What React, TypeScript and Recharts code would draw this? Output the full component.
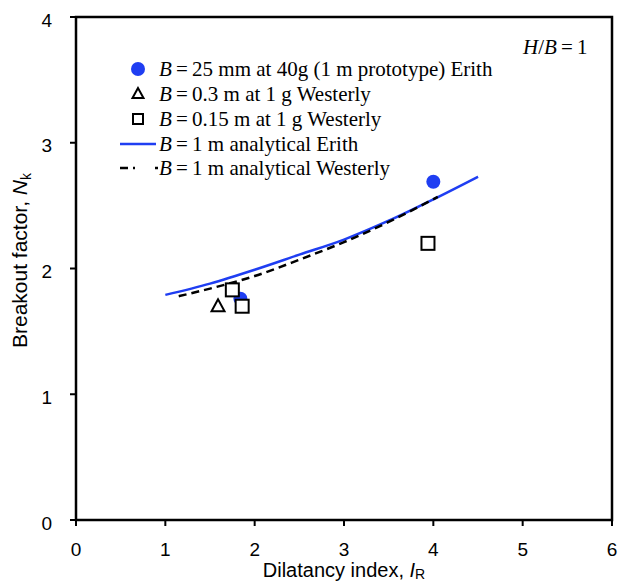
import React from "react";
import {
  ComposedChart,
  Line,
  Scatter,
  XAxis,
  YAxis,
  ReferenceArea,
  Legend,
} from "recharts";

const xTicks = [0, 1, 2, 3, 4, 5, 6];
const yTicks = [0, 1, 2, 3, 4];

// centrifuge test, B = 25 mm at 40g (Erith)
const erithTest = [
  { x: 1.84, y: 1.76 },
  { x: 4.0, y: 2.69 },
];
// 1g tests (Westerly)
const westerly03 = [{ x: 1.59, y: 1.7 }];
const westerly015 = [
  { x: 1.75, y: 1.83 },
  { x: 1.86, y: 1.7 },
  { x: 3.94, y: 2.2 },
];
// analytical curves
const erithAnalytical = [
  { x: 1.0, y: 1.79 },
  { x: 1.5, y: 1.88 },
  { x: 2.0, y: 1.99 },
  { x: 2.5, y: 2.11 },
  { x: 3.0, y: 2.23 },
  { x: 3.5, y: 2.38 },
  { x: 4.0, y: 2.55 },
  { x: 4.5, y: 2.73 },
];
const westerlyAnalytical = [
  { x: 1.15, y: 1.78 },
  { x: 1.5, y: 1.84 },
  { x: 2.0, y: 1.94 },
  { x: 2.5, y: 2.07 },
  { x: 3.0, y: 2.21 },
  { x: 3.5, y: 2.37 },
  { x: 4.05, y: 2.57 },
];

const BLUE = "#1f3ef2";
const SANS = "'Liberation Sans', Arial, sans-serif";
const SERIF = "'Liberation Serif', 'Times New Roman', serif";
const TICK_MARGIN = 20;

const XTick = (props: any) => {
  const { x, y, payload } = props;
  const axisY = y - TICK_MARGIN;
  return (
    <g>
      <line x1={x} y1={axisY} x2={x} y2={axisY - 7} stroke="#000" strokeWidth={2} />
      <text x={x} y={y - 3} dy="0.71em" textAnchor="middle" fontSize={19} fontFamily={SANS} fill="#000">
        {payload.value}
      </text>
    </g>
  );
};

const YTick = (props: any) => {
  const { x, y, payload } = props;
  const axisX = x + TICK_MARGIN;
  return (
    <g>
      <line x1={axisX} y1={y} x2={axisX + 7} y2={y} stroke="#000" strokeWidth={2} />
      <text x={x + 2} y={y + 3} dy="0.355em" textAnchor="end" fontSize={19} fontFamily={SANS} fill="#000">
        {payload.value}
      </text>
    </g>
  );
};

const XTitle = (props: any) => {
  const { viewBox } = props;
  const cx = viewBox.x + viewBox.width / 2;
  return (
    <text x={cx} y={viewBox.y + 57} textAnchor="middle" fontSize={20} fontFamily={SANS} fill="#000">
      Dilatancy index,{" "}
      <tspan fontStyle="italic">I</tspan>
      <tspan fontSize={14} dy={2}>R</tspan>
    </text>
  );
};

const YTitle = (props: any) => {
  const { viewBox } = props;
  const cx = 27;
  const cy = viewBox.y + viewBox.height / 2 - 8;
  return (
    <text
      x={cx}
      y={cy}
      textAnchor="middle"
      fontSize={21}
      fontFamily={SANS}
      fill="#000"
      transform={`rotate(-90 ${cx} ${cy})`}
    >
      Breakout factor,{" "}
      <tspan fontStyle="italic">N</tspan>
      <tspan fontSize={14} dy={4}>k</tspan>
    </text>
  );
};

const dot = (props: any) => <circle cx={props.cx} cy={props.cy} r={7} fill={BLUE} />;
const tri = (props: any) => {
  const { cx, cy } = props;
  return (
    <polygon
      points={`${cx},${cy - 7} ${cx - 6.5},${cy + 5} ${cx + 6.5},${cy + 5}`}
      fill="#fff"
      stroke="#000"
      strokeWidth={2}
    />
  );
};
const sq = (props: any) => (
  <rect x={props.cx - 6.5} y={props.cy - 6.5} width={13} height={13} fill="#fff" stroke="#000" strokeWidth={2} />
);

const legendRows = [
  { key: "erith", pre: "\u2009=\u200925 mm at 40g (1 m prototype) Erith" },
  { key: "w03", pre: "\u2009=\u20090.3 m at 1 g Westerly" },
  { key: "w015", pre: "\u2009=\u20090.15 m at 1 g Westerly" },
  { key: "aErith", pre: "\u2009=\u20091 m analytical Erith" },
  { key: "aWest", pre: "\u2009=\u20091 m analytical Westerly" },
];

const LegendSymbol = ({ k }: { k: string }) => {
  return (
    <svg width={40} height={24} style={{ display: "block" }}>
      {k === "erith" && <circle cx={19} cy={12} r={7} fill={BLUE} />}
      {k === "w03" && (
        <polygon points="19,6 13.5,16 24.5,16" fill="#fff" stroke="#000" strokeWidth={2} />
      )}
      {k === "w015" && <rect x={14} y={7} width={10} height={10} fill="#fff" stroke="#000" strokeWidth={2} />}
      {k === "aErith" && <line x1={1} y1={12} x2={37} y2={12} stroke={BLUE} strokeWidth={2.5} />}
      {k === "aWest" && (
        <line x1={1} y1={12} x2={39} y2={12} stroke="#000" strokeWidth={2.5} strokeDasharray="8 5 2 20" />
      )}
    </svg>
  );
};

const LegendContent = () => (
  <div style={{ position: "relative", width: 619, height: 200, fontFamily: SERIF, fontSize: 21, color: "#000" }}>
    <div style={{ position: "absolute", left: 119, top: 57 }}>
      {legendRows.map((r) => (
        <div key={r.key} style={{ display: "flex", alignItems: "center", height: 24.75, whiteSpace: "nowrap" }}>
          <LegendSymbol k={r.key} />
          <span style={{ lineHeight: "24px" }}>
            <i>B</i>
            {r.pre}
          </span>
        </div>
      ))}
    </div>
    <div style={{ position: "absolute", left: 523, top: 35, whiteSpace: "nowrap", lineHeight: "24px" }}>
      <i>H</i>/<i>B</i>
      {"\u2009=\u20091"}
    </div>
  </div>
);

export default function App() {
  return (
    <div style={{ position: "absolute", left: 0, top: 0, background: "#fff" }}>
      <ComposedChart width={619} height={582} margin={{ top: 17, right: 7, left: 0, bottom: 0 }}>
        <XAxis
          type="number"
          dataKey="x"
          domain={[0, 6]}
          ticks={xTicks}
          allowDataOverflow
          height={62}
          axisLine={false}
          tickLine={false}
          tickMargin={TICK_MARGIN}
          tick={<XTick />}
          label={{ content: <XTitle /> }}
        />
        <YAxis
          type="number"
          dataKey="y"
          domain={[0, 4]}
          ticks={yTicks}
          allowDataOverflow
          width={76}
          axisLine={false}
          tickLine={false}
          tickMargin={TICK_MARGIN}
          tick={<YTick />}
          label={{ content: <YTitle /> }}
        />
        <ReferenceArea x1={0} x2={6} y1={0} y2={4} fill="none" fillOpacity={0} stroke="#000" strokeWidth={2.5} />
        <Line
          data={erithAnalytical}
          dataKey="y"
          type="monotone"
          stroke={BLUE}
          strokeWidth={2.5}
          dot={false}
          activeDot={false}
          isAnimationActive={false}
          legendType="none"
        />
        <Line
          data={westerlyAnalytical}
          dataKey="y"
          type="monotone"
          stroke="#000"
          strokeWidth={2.5}
          strokeDasharray="8 5"
          dot={false}
          activeDot={false}
          isAnimationActive={false}
          legendType="none"
        />
        <Scatter data={westerly03} dataKey="y" shape={tri} isAnimationActive={false} />
        <Scatter data={erithTest} dataKey="y" shape={dot} isAnimationActive={false} />
        <Scatter data={westerly015} dataKey="y" shape={sq} isAnimationActive={false} />
        <Legend
          layout="vertical"
          align="center"
          verticalAlign="middle"
          content={<LegendContent />}
          wrapperStyle={{ left: 0, top: 0, width: 619, height: 200 }}
        />
      </ComposedChart>
    </div>
  );
}
